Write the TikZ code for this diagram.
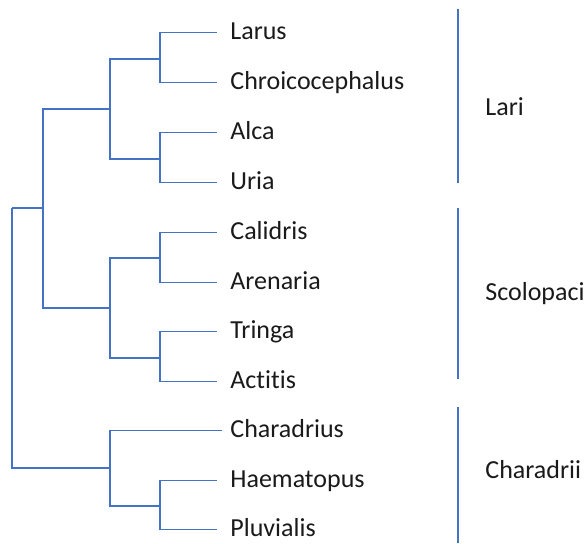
\documentclass[tikz,border=0pt]{standalone}
\usepackage{fontspec}
\setmainfont{Carlito}[Ligatures=CommonOff]
\usepackage{xcolor}
\usepackage{tikz}
\usetikzlibrary{positioning}

\definecolor{branchblue}{HTML}{4472C4}
\definecolor{labelgray}{HTML}{1A1A1A}

\begin{document}
\begin{tikzpicture}[x=0.5pt,y=-0.5pt,
  branch/.style={draw=branchblue,line width=0.6pt},
  leaf node/.style={anchor=west,inner xsep=6.5pt,inner ysep=0pt,yshift=-0.9pt,
    text height=0.64em,text depth=0pt,text=labelgray,
    font=\fontsize{13}{15}\selectfont},
  group node/.style={anchor=west,inner sep=0pt,yshift=-0.9pt,
    text height=0.64em,text depth=0pt,text=labelgray,
    font=\fontsize{13}{15}\selectfont}]

  \useasboundingbox (0,0) rectangle (586,543);

  \coordinate (root) at (12, 208);
  \coordinate (core) at (43, 208);
  \coordinate (lari) at (110, 109);
  \coordinate (scol) at (110, 308);
  \coordinate (char) at (110, 468);
  \coordinate (gull) at (160, 59);
  \coordinate (auk) at (160, 159);
  \coordinate (sand) at (160, 258);
  \coordinate (shank) at (160, 358);
  \coordinate (plover) at (160, 506);

  \node[leaf node] (larus) at (217, 31) {Larus};
  \node[leaf node] (chroico) at (217, 81) {Chroicocephalus};
  \node[leaf node] (alca) at (217, 131) {Alca};
  \node[leaf node] (uria) at (217, 181) {Uria};
  \node[leaf node] (calidris) at (217, 231) {Calidris};
  \node[leaf node] (arenaria) at (217, 281) {Arenaria};
  \node[leaf node] (tringa) at (217, 330) {Tringa};
  \node[leaf node] (actitis) at (217, 380) {Actitis};
  \node[leaf node,inner xsep=4pt] (charadrius) at (222, 429) {Charadrius};
  \node[leaf node] (haemato) at (217, 479) {Haematopus};
  \node[leaf node] (pluvialis) at (217, 528) {Pluvialis};

  \foreach \p/\c in {root/core, root/char, core/lari, core/scol,
      lari/gull, lari/auk, scol/sand, scol/shank, char/charadrius, char/plover,
      gull/larus, gull/chroico, auk/alca, auk/uria, sand/calidris, sand/arenaria,
      shank/tringa, shank/actitis, plover/haemato, plover/pluvialis}
    \draw[branch] (\p) |- (\c);

  \coordinate (lari top) at (458, 9);
  \coordinate (lari bot) at (458, 183);
  \coordinate (scol top) at (458, 208);
  \coordinate (scol bot) at (458, 379);
  \coordinate (char top) at (458, 407);
  \coordinate (char bot) at (458, 543);

  \draw[branch] (lari top) -- (lari bot);
  \draw[branch] (scol top) -- (scol bot);
  \draw[branch] (char top) -- (char bot);

  \node[group node] (lari label) at (485, 107) {Lari};
  \node[group node] (scol label) at (485, 292) {Scolopaci};
  \node[group node] (char label) at (485, 470) {Charadrii};

\end{tikzpicture}
\end{document}
